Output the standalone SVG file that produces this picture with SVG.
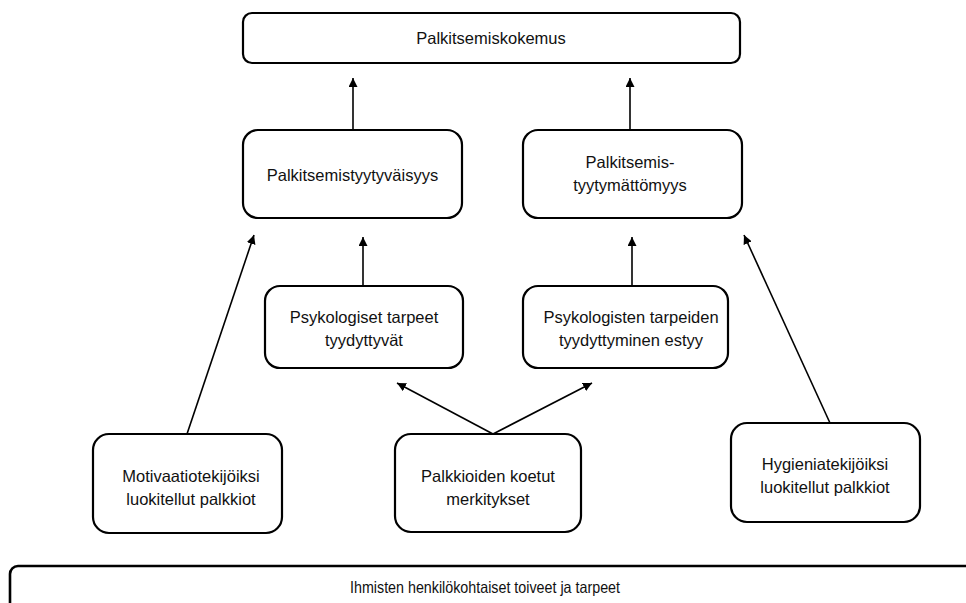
<svg xmlns="http://www.w3.org/2000/svg" width="966" height="603" viewBox="0 0 966 603">
<defs>
<marker id="ah" viewBox="0 0 10 10" refX="10" refY="5" markerWidth="9" markerHeight="9" markerUnits="userSpaceOnUse" orient="auto">
<path d="M0,0 L10,5 L0,10 z" fill="#000"/>
</marker>
</defs>
<style>
.box{fill:#fff;stroke:#000;stroke-width:2.2}
.t{font-family:"Liberation Sans",Arial,sans-serif;font-size:16.5px;fill:#111;text-anchor:middle}
.c{stroke:#000;stroke-width:1.6;fill:none;marker-end:url(#ah)}
</style>
<rect width="966" height="603" fill="#fff"/>
<g id="connectors">
<line class="c" x1="353" y1="130" x2="353" y2="78"/>
<line class="c" x1="630" y1="130" x2="630" y2="78"/>
<line class="c" x1="363" y1="286" x2="363" y2="237"/>
<line class="c" x1="632" y1="286" x2="632" y2="237"/>
<line class="c" x1="187" y1="434" x2="254" y2="235"/>
<line class="c" x1="830" y1="423" x2="744" y2="235"/>
<line class="c" x1="493" y1="434" x2="397" y2="383"/>
<line class="c" x1="493" y1="434" x2="592" y2="383"/>
</g>
<g id="n_palkitsemiskokemus">
<rect class="box" x="243" y="13" width="497" height="50" rx="9"/>
<text class="t" x="491" y="44">Palkitsemiskokemus</text>
</g>
<g id="n_tyytyvaisyys">
<rect class="box" x="243" y="130" width="219" height="88" rx="15"/>
<text class="t" x="352.5" y="181">Palkitsemistyytyväisyys</text>
</g>
<g id="n_tyytymattomyys">
<rect class="box" x="523" y="130" width="219" height="88" rx="15"/>
<text class="t" x="630" y="168">Palkitsemis-</text>
<text class="t" x="630" y="191">tyytymättömyys</text>
</g>
<g id="n_psyk_tyydyttyvat">
<rect class="box" x="265" y="286" width="198" height="82" rx="15"/>
<text class="t" x="364" y="323">Psykologiset tarpeet</text>
<text class="t" x="364" y="346">tyydyttyvät</text>
</g>
<g id="n_psyk_estyy">
<rect class="box" x="523" y="286" width="205" height="82" rx="15"/>
<text class="t" x="631" y="323">Psykologisten tarpeiden</text>
<text class="t" x="631" y="346">tyydyttyminen estyy</text>
</g>
<g id="n_motivaatio">
<rect class="box" x="93" y="434" width="189" height="99" rx="16"/>
<text class="t" x="191" y="482">Motivaatiotekijöiksi</text>
<text class="t" x="191" y="505">luokitellut palkkiot</text>
</g>
<g id="n_merkitykset">
<rect class="box" x="395" y="434" width="186" height="98" rx="16"/>
<text class="t" x="488" y="482">Palkkioiden koetut</text>
<text class="t" x="488" y="505">merkitykset</text>
</g>
<g id="n_hygienia">
<rect class="box" x="731" y="423" width="189" height="99" rx="16"/>
<text class="t" x="825" y="470">Hygieniatekijöiksi</text>
<text class="t" x="825" y="493">luokitellut palkkiot</text>
</g>
<g id="n_toiveet">
<rect class="box" x="10" y="566" width="970" height="60" rx="8" style="stroke-width:2.6"/>
<text class="t" x="485" y="593" textLength="270" lengthAdjust="spacingAndGlyphs">Ihmisten henkilökohtaiset toiveet ja tarpeet</text>
</g>
</svg>
